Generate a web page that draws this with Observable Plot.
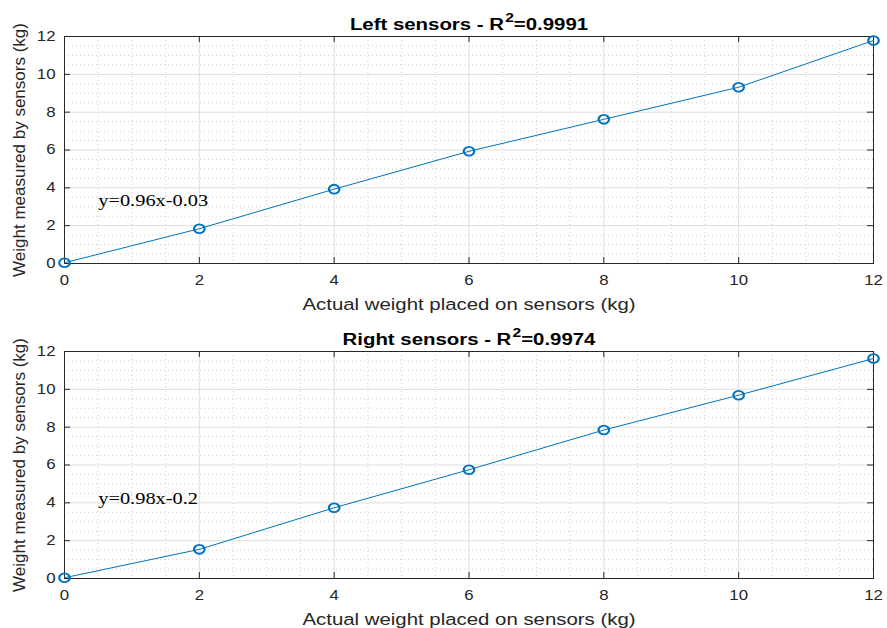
<!DOCTYPE html>
<html><head><meta charset="utf-8">
<script src="https://cdn.jsdelivr.net/npm/d3@7"></script>
<script src="https://cdn.jsdelivr.net/npm/@observablehq/plot@0.6"></script>
<style>body{margin:0;background:#fff} #chart svg{display:block}</style>
</head><body><div id="chart"></div>
<script>
const actualWeight = [0, 2, 4, 6, 8, 10, 12];
const leftMeasured = [0.04, 1.84, 3.93, 5.93, 7.62, 9.32, 11.79];
const rightMeasured = [0.04, 1.54, 3.74, 5.75, 7.85, 9.69, 11.63];
const panelNames = ["Left sensors", "Right sensors"];
const rSquared = ["0.9991", "0.9974"];
const equations = ["y=0.96x-0.03", "y=0.98x-0.2"];
const equationX = [0.5, 0.5];
const equationY = [3.35, 4.21];
const xTicks = [0, 2, 4, 6, 8, 10, 12];
const yTicks = [0, 2, 4, 6, 8, 10, 12];
const minorTicks = [0.5, 1, 1.5, 2.5, 3, 3.5, 4.5, 5, 5.5, 6.5, 7, 7.5, 8.5, 9, 9.5, 10.5, 11, 11.5];
const xLabel = "Actual weight placed on sensors (kg)";
const yLabel = "Weight measured by sensors (kg)";

const S = 1.2; // horizontal glyph stretch of the reference
const sans = "'Liberation Sans', Arial, Helvetica, sans-serif";
const serif = "'Liberation Serif', 'Times New Roman', Times, serif";
const ink = "#262626";

function stretch(svg) {
  d3.select(svg).selectAll("text").each(function () {
    if (this.textContent === yLabel) return;
    const t = this.getAttribute("transform");
    if (t) {
      this.setAttribute("transform", t + ` scale(${S},1)`);
    } else {
      const x = +this.getAttribute("x") || 0, y = +this.getAttribute("y") || 0;
      this.setAttribute("transform", `translate(${x},${y}) scale(${S},1) translate(${-x},${-y})`);
    }
  });
  d3.select(svg).selectAll("circle").each(function () {
    const cx = +this.getAttribute("cx") || 0, cy = +this.getAttribute("cy") || 0;
    const t = this.getAttribute("transform") || "";
    this.setAttribute("transform", `${t} translate(${cx},${cy}) scale(${S},1) translate(${-cx},${-cy})`);
  });
}

function panel(i, measured, marginTop, marginBottom) {
  const W = 887, H = 314, ml = 64, mr = 14;
  const innerW = W - ml - mr, innerH = H - marginTop - marginBottom;
  const data = actualWeight.map((x, j) => ({x, y: measured[j]}));
  const titleStr = `${panelNames[i]} - R2=${rSquared[i]}`;
  const svg = Plot.plot({
    width: W, height: H, marginLeft: ml, marginRight: mr, marginTop, marginBottom,
    x: {domain: [0, 12]},
    y: {domain: [0, 12]},
    style: {fontFamily: sans, fontSize: "14px", color: ink, background: "#fff", overflow: "visible"},
    marks: [
      Plot.gridX(minorTicks, {stroke: "#cfcfcf", strokeOpacity: 1, strokeDasharray: "1,3"}),
      Plot.gridY(minorTicks, {stroke: "#cfcfcf", strokeOpacity: 1, strokeDasharray: "1,3"}),
      Plot.gridX(xTicks, {stroke: "#dedede", strokeOpacity: 1}),
      Plot.gridY(yTicks, {stroke: "#dedede", strokeOpacity: 1}),
      Plot.tickX(xTicks, {x: d => d, insetTop: innerH - 6, stroke: ink}),
      Plot.tickX(xTicks, {x: d => d, insetBottom: innerH - 6, stroke: ink}),
      Plot.tickY(yTicks, {y: d => d, insetRight: innerW - 6, stroke: ink}),
      Plot.tickY(yTicks, {y: d => d, insetLeft: innerW - 6, stroke: ink}),
      Plot.frame({stroke: ink}),
      Plot.axisX(xTicks, {tickSize: 0, tickPadding: 12, label: null, fontSize: 14, fill: ink}),
      Plot.axisY(yTicks, {tickSize: 0, tickPadding: 9, label: null, fontSize: 14, fill: ink}),
      Plot.line(data, {x: "x", y: "y", stroke: "#0072BD", strokeWidth: 1}),
      Plot.dot(data, {x: "x", y: "y", r: 4.4, stroke: "#0072BD", strokeWidth: 1.8, fill: "none"}),
      Plot.text([{x: equationX[i], y: equationY[i], t: equations[i]}], {
        x: "x", y: "y", text: "t", textAnchor: "start",
        fontFamily: serif, fontSize: 17, fill: "#000"
      }),
      Plot.text([titleStr], {frameAnchor: "top", dy: -7, lineAnchor: "bottom", fontWeight: "bold", fontSize: 17, fill: "#000"}),
      Plot.text([xLabel], {frameAnchor: "bottom", dy: 34, lineAnchor: "top", fontSize: 17, fill: ink}),
      Plot.text([yLabel], {frameAnchor: "left", textAnchor: "middle", dx: -45, rotate: -90, fontSize: 17, fill: ink})
    ]
  });
  // superscript in the title
  d3.select(svg).selectAll("text").filter(function () { return this.textContent === titleStr; }).each(function () {
    const el = d3.select(this);
    el.text(null);
    el.append("tspan").text(`${panelNames[i]} - R`);
    el.append("tspan").attr("dy", -8).attr("dx", 1).attr("font-size", 13).text("2");
    el.append("tspan").attr("dy", 8).text(`=${rSquared[i]}`);
  });
  d3.select(svg).selectAll("text").filter(function () { return this.textContent === equations[i]; })
    .style("font-family", serif);
  stretch(svg);
  return svg;
}

const root = document.getElementById("chart");
root.appendChild(panel(0, leftMeasured, 36, 51));
root.appendChild(panel(1, rightMeasured, 37, 50));
</script>
</body></html>
